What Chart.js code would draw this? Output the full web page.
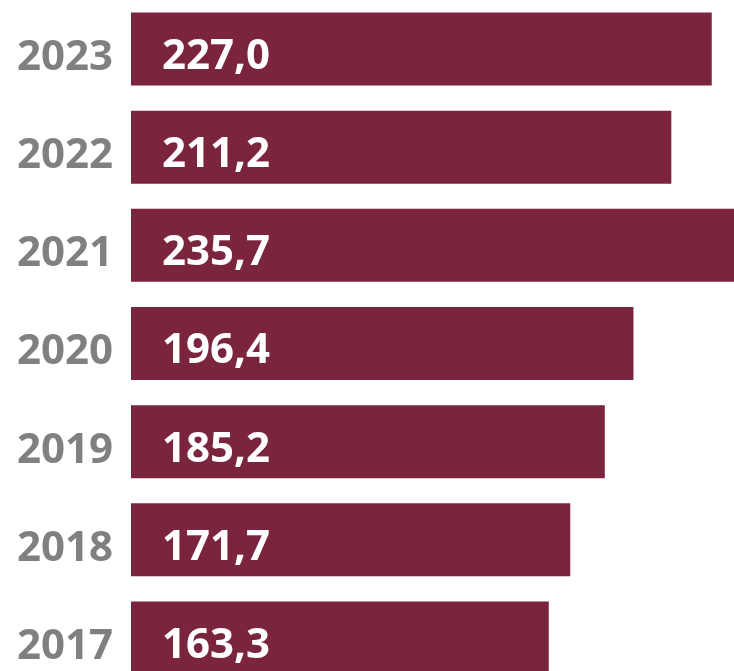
<!DOCTYPE html>
<html>
<head>
<meta charset="utf-8">
<script src="https://cdn.jsdelivr.net/npm/chart.js@4"></script>
<style>
  html, body { margin: 0; padding: 0; background: #fff; overflow: hidden; }
  #wrap { width: 734px; height: 671px; overflow: hidden; }
</style>
</head>
<body>
<div id="wrap"><canvas id="barChart" width="734" height="687"></canvas></div>
<script>
// Values per year (top to bottom)
const years = ['2023', '2022', '2021', '2020', '2019', '2018', '2017'];
const values = [227.0, 211.2, 235.7, 196.4, 185.2, 171.7, 163.3];

const barColor = '#7B243E';
const labelFont = { family: '"Open Sans", sans-serif', size: 42, weight: 'bold' };

// Writes the value inside each bar, near its start
const valueLabels = {
    id: 'valueLabels',
    afterDatasetsDraw(chart) {
        const ctx = chart.ctx;
        const meta = chart.getDatasetMeta(0);
        ctx.save();
        ctx.fillStyle = '#ffffff';
        ctx.font = `bold ${labelFont.size}px ${labelFont.family}`;
        ctx.textAlign = 'left';
        ctx.textBaseline = 'middle';
        meta.data.forEach((bar, i) => {
            const txt = values[i].toFixed(1).replace('.', ',');
            ctx.fillText(txt, chart.chartArea.left + 31, bar.y + 8);
        });
        ctx.restore();
    }
};

new Chart(document.getElementById('barChart'), {
    type: 'bar',
    data: {
        labels: years,
        datasets: [{
            data: values,
            backgroundColor: barColor,
            borderWidth: 0,
            barPercentage: 0.744,
            categoryPercentage: 1
        }]
    },
    options: {
        indexAxis: 'y',
        responsive: false,
        animation: false,
        layout: { padding: 0 },
        plugins: {
            legend: { display: false },
            tooltip: { enabled: false }
        },
        scales: {
            x: {
                display: false,
                min: 0,
                max: 235.7
            },
            y: {
                grid: { display: false },
                border: { display: false },
                ticks: {
                    color: '#808080',
                    font: labelFont,
                    padding: 10,
                    labelOffset: 9
                },
                afterFit(scale) {
                    scale.width = 131;
                    scale.paddingTop = 0;
                    scale.paddingBottom = 0;
                }
            }
        }
    },
    plugins: [valueLabels]
});
</script>
</body>
</html>
